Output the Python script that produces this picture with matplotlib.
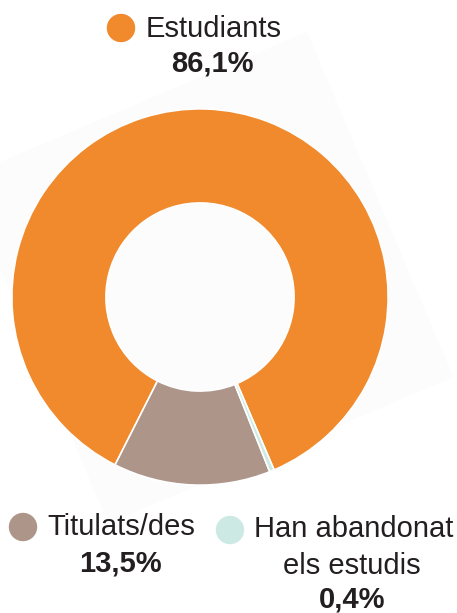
import numpy as np
import matplotlib.pyplot as plt
from matplotlib.patches import Circle, Polygon

# Data
labels = ["Estudiants", "Titulats/des", "Han abandonat\nels estudis"]
values = [86.1, 13.5, 0.4]
value_labels = ["86,1%", "13,5%", "0,4%"]
colors = ["#F08A2C", "#AD958A", "#CDE9E4"]

W, H = 457, 613
plt.rcParams['font.family'] = ['Liberation Sans', 'DejaVu Sans']
txt_color = "#231F20"

fig = plt.figure(figsize=(W / 100, H / 100), dpi=100)
fig.patch.set_facecolor("white")

# overlay axes in pixel units (background shape, legend dots, labels)
bg = fig.add_axes([0, 0, 1, 1])
bg.set_xlim(0, W)
bg.set_ylim(H, 0)
bg.axis("off")

# faint rotated square behind the donut
top = np.array([307, 32])
a = np.array([0.39, 0.92])
b = np.array([-0.92, 0.39])
s = 375
sq = [top, top + s * a, top + s * a + s * b, top + s * b]
bg.add_patch(Polygon(sq, closed=True, facecolor="#FCFCFC", edgecolor="none", zorder=0))

# donut
ax = fig.add_axes([10 / W, 1 - 487 / H, 380 / W, 380 / H])
ax.pie(values, colors=colors, startangle=293.2, counterclock=True,
       radius=1, wedgeprops=dict(width=0.5, edgecolor="white", linewidth=1.2))
ax.set_xlim(-1.01, 1.01)
ax.set_ylim(-1.01, 1.01)
ax.set_aspect("equal")
ax.axis("off")

fs = 21

# legend entries
# Estudiants
bg.add_patch(Circle((121, 28), 13.5, color=colors[0], zorder=3))
bg.text(146, 29, labels[0], fontsize=fs, color=txt_color, va="center", ha="left", zorder=3)
bg.text(212, 64, value_labels[0], fontsize=fs, fontweight="bold", color=txt_color,
        va="center", ha="center", zorder=3)

# Titulats/des
bg.add_patch(Circle((23, 527), 13.5, color=colors[1], zorder=3))
bg.text(47, 527, labels[1], fontsize=fs, color=txt_color, va="center", ha="left", zorder=3)
bg.text(120, 563, value_labels[1], fontsize=fs, fontweight="bold", color=txt_color,
        va="center", ha="center", zorder=3)

# Han abandonat els estudis
bg.add_patch(Circle((230, 530), 13.5, color=colors[2], zorder=3))
first, second = labels[2].split("\n")
bg.text(254, 529, first, fontsize=fs, color=txt_color, va="center", ha="left", zorder=3)
bg.text(352, 566, second, fontsize=fs, color=txt_color, va="center", ha="center", zorder=3)
bg.text(352, 599, value_labels[2], fontsize=fs, fontweight="bold", color=txt_color,
        va="center", ha="center", zorder=3)

fig.savefig("out.png", dpi=100)
